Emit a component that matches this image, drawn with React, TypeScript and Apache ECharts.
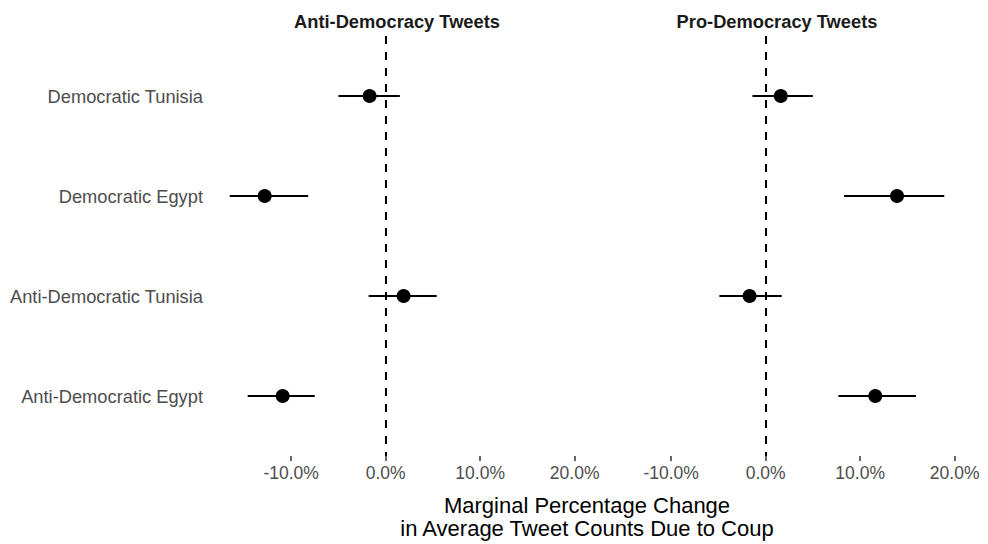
import React, { useEffect, useRef } from "react";
import * as echarts from "echarts";

const categories = [
  "Democratic Tunisia",
  "Democratic Egypt",
  "Anti-Democratic Tunisia",
  "Anti-Democratic Egypt",
];
const panelTitles = ["Anti-Democracy Tweets", "Pro-Democracy Tweets"];

const antiEst = [-1.7, -12.8, 1.9, -10.9];
const antiLow = [-5.0, -16.5, -1.8, -14.6];
const antiHigh = [1.5, -8.2, 5.4, -7.5];

const proEst = [1.6, 13.9, -1.7, 11.6];
const proLow = [-1.4, 8.3, -4.9, 7.7];
const proHigh = [5.0, 18.9, 1.7, 15.9];

const xTicks = [-10, 0, 10, 20];
const axisTitleLines = [
  "Marginal Percentage Change",
  "in Average Tweet Counts Due to Coup",
];

const FONT = "'Liberation Sans', Arial, Helvetica, sans-serif";

export default function App() {
  const ref = useRef<HTMLDivElement>(null);
  useEffect(() => {
    if (!ref.current) return;
    const chart = echarts.init(ref.current, null, { renderer: "svg" });

    const panels = [
      { est: antiEst, low: antiLow, high: antiHigh },
      { est: proEst, low: proLow, high: proHigh },
    ];
    const grids = [
      { left: 213, right: 988 - 581, top: 36, bottom: 544 - 456 },
      { left: 593, right: 988 - 961, top: 36, bottom: 544 - 456 },
    ];

    const xAxes = grids.map((_, i) => ({
      type: "value",
      gridIndex: i,
      min: -18.27,
      max: 20.67,
      axisLine: { show: false },
      splitLine: { show: false },
      axisTick: {
        show: true,
        length: 5,
        customValues: xTicks,
        lineStyle: { color: "#333333", width: 1.5 },
      },
      axisLabel: {
        customValues: xTicks,
        margin: 8,
        color: "#4d4d4d",
        fontSize: 17.5,
        fontFamily: FONT,
        formatter: (v: number) => v.toFixed(1) + "%",
      },
    }));

    const yAxes = grids.map((_, i) => ({
      type: "value",
      gridIndex: i,
      min: 0.4,
      max: 4.6,
      inverse: true,
      axisLine: { show: false },
      splitLine: { show: false },
      axisTick: { show: false },
      axisLabel: {
        show: i === 0,
        customValues: [1, 2, 3, 4],
        margin: 10,
        color: "#4d4d4d",
        fontSize: 18.3,
        fontFamily: FONT,
        formatter: (v: number) => categories[Math.round(v) - 1] ?? "",
      },
    }));

    const series: any[] = [];
    panels.forEach((p, i) => {
      series.push({
        type: "custom",
        xAxisIndex: i,
        yAxisIndex: i,
        silent: true,
        encode: { x: [0, 1], y: 2 },
        data: categories.map((_, k) => [p.low[k], p.high[k], k + 1]),
        renderItem: (params: any, api: any) => {
          const y = api.value(2);
          const a = api.coord([api.value(0), y]);
          const b = api.coord([api.value(1), y]);
          return {
            type: "line",
            shape: { x1: a[0], y1: a[1], x2: b[0], y2: b[1] },
            style: { stroke: "#000000", lineWidth: 2 },
          };
        },
        z: 2,
      });
      series.push({
        type: "scatter",
        xAxisIndex: i,
        yAxisIndex: i,
        symbol: "circle",
        symbolSize: 14,
        itemStyle: { color: "#000000", opacity: 1 },
        data: categories.map((_, k) => [p.est[k], k + 1]),
        z: 4,
        markLine: {
          silent: true,
          symbol: "none",
          label: { show: false },
          lineStyle: { color: "#000000", width: 2, type: [8, 8] },
          data: [{ xAxis: 0 }],
          z: 1,
        },
      });
    });

    const titleStyle = {
      fontSize: 18.3,
      fontWeight: "bold",
      color: "#1a1a1a",
      fontFamily: FONT,
    };

    chart.setOption({
      animation: false,
      backgroundColor: "#ffffff",
      grid: grids,
      xAxis: xAxes,
      yAxis: yAxes,
      title: [
        { text: panelTitles[0], left: 397, top: 12, padding: 0, textAlign: "center", textStyle: titleStyle },
        { text: panelTitles[1], left: 777, top: 12, padding: 0, textAlign: "center", textStyle: titleStyle },
      ],
      graphic: axisTitleLines.map((t, k) => ({
        type: "text",
        x: 587,
        y: 505 + k * 23,
        style: {
          text: t,
          fontSize: 22,
          fontFamily: FONT,
          fill: "#000000",
          align: "center",
          verticalAlign: "middle",
        },
      })),
      series,
    });
    return () => chart.dispose();
  }, []);
  return (
    <div
      ref={ref}
      style={{ position: "fixed", left: 0, top: 0, width: 988, height: 544 }}
    />
  );
}
